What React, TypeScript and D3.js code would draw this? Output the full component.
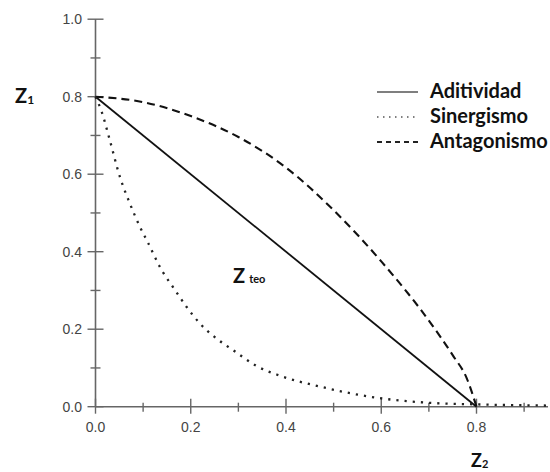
import React from "react";
import * as d3 from "d3";

const xTicks = [0, 0.1, 0.2, 0.3, 0.4, 0.5, 0.6, 0.7, 0.8, 0.9];
const yTicks = [0, 0.1, 0.2, 0.3, 0.4, 0.5, 0.6, 0.7, 0.8, 0.9, 1.0];
const majorLabels = [0, 0.2, 0.4, 0.6, 0.8];
const yMajorLabels = [0, 0.2, 0.4, 0.6, 0.8, 1.0];

const aditividadX = [0, 0.8];
const aditividadY = [0.8, 0];

const antagonismoX = [0, 0.1, 0.2, 0.3, 0.4, 0.5, 0.6, 0.7, 0.75, 0.78, 0.8];
const antagonismoY = [0.8, 0.786, 0.75, 0.696, 0.617, 0.507, 0.375, 0.222, 0.133, 0.072, 0.0];

const sinergismoX = [0, 0.013, 0.03, 0.051, 0.072, 0.093, 0.11, 0.135, 0.167, 0.191, 0.219, 0.254, 0.289, 0.338, 0.387, 0.471, 0.597, 0.702, 0.8, 0.947];
const sinergismoY = [0.8, 0.761, 0.688, 0.594, 0.525, 0.465, 0.424, 0.361, 0.301, 0.258, 0.215, 0.176, 0.146, 0.105, 0.08, 0.052, 0.022, 0.01, 0.006, 0.003];

const legendItems = ["Aditividad", "Sinergismo", "Antagonismo"];

export default function App() {
  const x = d3.scaleLinear().domain([0, 0.8]).range([95.5, 476.5]);
  const y = d3.scaleLinear().domain([0, 0.8]).range([406.7, 96.7]);
  const line = d3
    .line<[number, number]>()
    .x((d) => x(d[0]))
    .y((d) => y(d[1]))
    .curve(d3.curveMonotoneX);
  const zip = (a: number[], b: number[]) => a.map((v, i) => [v, b[i]] as [number, number]);

  const axisColor = "#666";
  const labelColor = "#444";
  const isMajor = (v: number) => Math.round(v * 10) % 2 === 0;
  const legendStyles = [
    { dash: undefined, w: 1.3, color: "#555" },
    { dash: "1.5 4.5", w: 1.6, color: "#555" },
    { dash: "5 4", w: 1.8, color: "#222" },
  ];

  return (
    <svg
      width={550}
      height={472}
      style={{ position: "absolute", left: 0, top: 0, background: "#fff" }}
    >
      {/* axes */}
      <line x1={x(0)} x2={x(0)} y1={y(1.0)} y2={y(0)} stroke={axisColor} strokeWidth={1.6} />
      <line x1={x(0)} x2={548} y1={y(0)} y2={y(0)} stroke={axisColor} strokeWidth={1.6} />
      {yTicks.map((t) => {
        const m = isMajor(t);
        return (
          <line
            key={"yt" + t}
            x1={x(0) - (m ? 8 : 5)}
            x2={x(0) + (m ? 8 : 5)}
            y1={y(t)}
            y2={y(t)}
            stroke={axisColor}
            strokeWidth={1.4}
          />
        );
      })}
      {xTicks.map((t) => {
        const m = isMajor(t);
        return (
          <line
            key={"xt" + t}
            x1={x(t)}
            x2={x(t)}
            y1={y(0) - (m ? 8 : 4)}
            y2={y(0) + (m ? 7 : 5)}
            stroke={axisColor}
            strokeWidth={1.4}
          />
        );
      })}
      {yMajorLabels.map((t) => (
        <text
          key={"yl" + t}
          x={82}
          y={y(t) + 5}
          textAnchor="end"
          fontFamily="Liberation Sans, Arial, sans-serif"
          fontSize={14}
          fill={labelColor}
        >
          {t.toFixed(1)}
        </text>
      ))}
      {majorLabels.map((t) => (
        <text
          key={"xl" + t}
          x={x(t)}
          y={432}
          textAnchor="middle"
          fontFamily="Liberation Sans, Arial, sans-serif"
          fontSize={14}
          fill={labelColor}
        >
          {t.toFixed(1)}
        </text>
      ))}

      {/* curves */}
      <path d={line(zip(aditividadX, aditividadY)) || ""} fill="none" stroke="#111" strokeWidth={1.8} />
      <path
        d={line(zip(antagonismoX, antagonismoY)) || ""}
        fill="none"
        stroke="#111"
        strokeWidth={2.1}
        strokeDasharray="8 5"
      />
      <path
        d={line(zip(sinergismoX, sinergismoY)) || ""}
        fill="none"
        stroke="#222"
        strokeWidth={2.3}
        strokeDasharray="2.2 6"
      />

      {/* legend */}
      {legendItems.map((name, i) => {
        const ly = 92 + i * 25;
        const s = legendStyles[i];
        return (
          <g key={name}>
            <line x1={377} x2={418} y1={ly} y2={ly} stroke={s.color} strokeWidth={s.w} strokeDasharray={s.dash} />
            <text
              x={430}
              y={ly + 6}
              fontFamily="Lato, Open Sans, sans-serif"
              fontWeight="bold"
              fontSize={20}
              fill="#111"
            >
              {name}
            </text>
          </g>
        );
      })}

      {/* axis names */}
      <text x={15} y={103} fontFamily="Lato, sans-serif" fontWeight="bold" fontSize={20} fill="#111">
        Z<tspan fontSize={12} dy={1}>1</tspan>
      </text>
      <text x={471} y={467} fontFamily="Lato, sans-serif" fontWeight="bold" fontSize={18} fill="#111">
        Z<tspan fontSize={11} dy={1}>2</tspan>
      </text>
      <text x={233} y={283} fontFamily="Lato, sans-serif" fontWeight="bold" fontSize={20} fill="#111">
        Z<tspan fontSize={11} dx={4}>teo</tspan>
      </text>
    </svg>
  );
}
